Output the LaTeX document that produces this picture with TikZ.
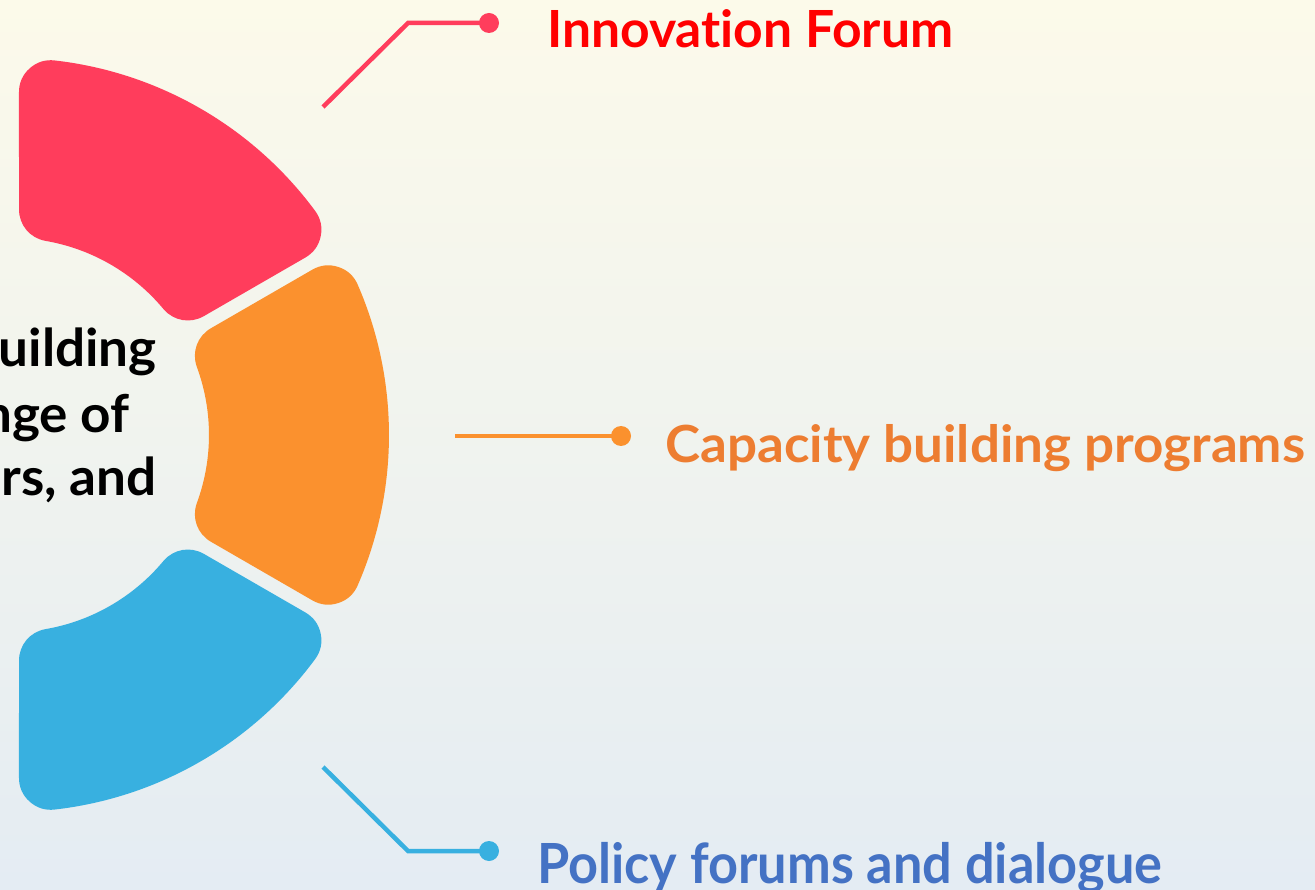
\documentclass[tikz,border=0pt]{standalone}
\usepackage{fontspec}
\setmainfont{Lato}[Ligatures=NoCommon]
\usepackage{graphicx}
\definecolor{segred}{HTML}{FF3D5C}
\definecolor{segorange}{HTML}{FB912E}
\definecolor{segblue}{HTML}{38B0E0}
\definecolor{labred}{HTML}{FF0000}
\definecolor{laborange}{HTML}{ED7D31}
\definecolor{labblue}{HTML}{4472C4}
\definecolor{bgtop}{HTML}{FCFAEA}
\definecolor{bgmid}{HTML}{F3F4EE}
\definecolor{bgbot}{HTML}{E4ECF3}
\newcommand\capfit[3]{\resizebox{#1}{#2}{\smash{#3}\rule{0pt}{\fontcharht\font`H}}}
\newcommand\bodyfrag[1]{\scalebox{1.02}[1]{\fontsize{52}{62}\selectfont\bfseries #1}}
\begin{document}
\begin{tikzpicture}[x=1pt,y=-1pt,
  sector/.style={fill=#1, draw=#1, line width=64pt, line join=round},
  conn/.style={draw=#1, line width=4.5pt, line cap=butt, line join=miter},
  dotnode/.style={circle, fill=#1, inner sep=0pt, minimum size=20pt},
  lab/.style={anchor=base west, inner sep=0pt, font=\bfseries, text=#1},
  body/.style={anchor=base east, inner sep=0pt, text=black}]
\useasboundingbox (0,0) rectangle (1315,890);
\clip (0,0) rectangle (1315,890);
\shade[top color=bgtop, middle color=bgmid, bottom color=bgbot] (0,0) rectangle (1315,890);
% segments (inset shapes, stroked wide with round joins)
\begin{scope}[shift={(12,435)}]
\path[sector=segred] (-36.49:345) arc[start angle=-36.49, end angle=-83.51, radius=345]
   -- (-80.19:229) arc[start angle=-80.19, end angle=-39.81, radius=229] -- cycle;
\path[sector=segorange] (-23.51:345) arc[start angle=-23.51, end angle=23.51, radius=345]
   -- (20.19:229) arc[start angle=20.19, end angle=-20.19, radius=229] -- cycle;
\path[sector=segblue] (36.49:345) arc[start angle=36.49, end angle=83.51, radius=345]
   -- (80.19:229) arc[start angle=80.19, end angle=39.81, radius=229] -- cycle;
\end{scope}
% body text fragments
\node[body] (t1) at (157,367) {\bodyfrag{uilding}};
\node[body] (t2) at (130,432) {\bodyfrag{nge of}};
\node[body] (t3) at (157,495) {\bodyfrag{rs, and}};
% connectors
\coordinate (s1) at (323,107);
\coordinate (b1) at (408,23);
\node[dotnode=segred] (d1) at (489,23) {};
\draw[conn=segred] (s1) -- (b1) -- (d1.center);
\coordinate (s2) at (455,436);
\node[dotnode=segorange] (d2) at (621,436) {};
\draw[conn=segorange] (s2) -- (d2.center);
\coordinate (s3) at (323,767);
\coordinate (b3) at (408,851);
\node[dotnode=segblue] (d3) at (489,851) {};
\draw[conn=segblue] (s3) -- (b3) -- (d3.center);
% labels
\node[lab=labred] (l1) at (547,48) {\capfit{406pt}{37pt}{Innovation Forum}};
\node[lab=laborange] (l2) at (665,463) {\capfit{640pt}{37pt}{Capacity building programs}};
\node[lab=labblue] (l3) at (537,883) {\capfit{625pt}{40pt}{Policy forums and dialogue}};
\end{tikzpicture}
\end{document}
